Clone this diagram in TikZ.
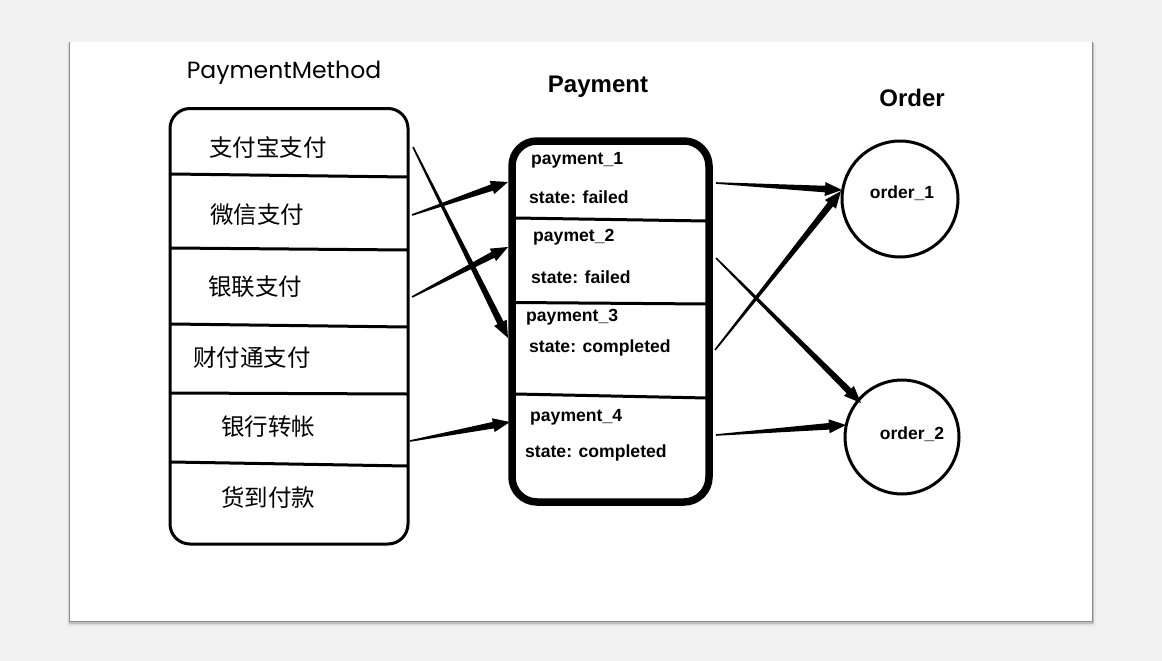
\documentclass[tikz,border=0pt]{standalone}
\usepackage{fontspec}
\setmainfont{Liberation Sans}
\newfontfamily\cjk{Noto Sans CJK SC}
\newfontfamily\geo{Poppins}
\usetikzlibrary{calc}
\newcommand{\tarrow}[2]{%
  \path ($(#2)!17pt!(#1)$) coordinate (hb);
  \fill ($(#1)!0.8pt!90:(#2)$) -- ($(hb)!3.3pt!90:(#2)$) -- ($(hb)!7pt!90:(#2)$) -- (#2)
     -- ($(hb)!7pt!-90:(#2)$) -- ($(hb)!3.3pt!-90:(#2)$) -- ($(#1)!0.8pt!-90:(#2)$) -- cycle;
}
\begin{document}
\begin{tikzpicture}[x=1pt,y=-1pt,
  cn/.style={font=\cjk\fontsize{23.5}{23.5}\selectfont, inner sep=0pt},
  pt/.style={font=\bfseries\fontsize{17.6}{17.6}\selectfont, inner sep=0pt, anchor=west},
  hd/.style={font=\bfseries\fontsize{24}{24}\selectfont, inner sep=0pt},
  ot/.style={font=\bfseries\fontsize{17.5}{17.5}\selectfont, inner sep=0pt},
  div/.style={line width=3pt}]
\useasboundingbox (0,0) rectangle (1162,661);
\fill[black!5] (0,0) rectangle (1162,661);
% slide shadow
\foreach \o/\c in {6/black!8,4/black!14,2.5/black!25,1.2/black!45}
  \fill[\c] (70-\o*0.5,42+\o*0.3) rectangle (1092+\o*0.6,621+\o);
\fill[white] (70,42) rectangle (1092,621);

% titles
\node[font=\geo\fontsize{23.5}{23.5}\selectfont, inner sep=0pt] (tpm) at (284,73) {PaymentMethod};
\node[hd] (tpay) at (598,87) {Payment};
\node[hd] (tord) at (912,98) {Order};

% left box
\node[draw, line width=3pt, rounded corners=20pt, minimum width=238pt, minimum height=435.5pt] (pm) at (289,326.25) {};
\draw[div] (171,174) -- (407,177);
\draw[div] (171,248) -- (407,250);
\draw[div] (171,324) -- (407,327);
\draw[div] (171,393) -- (407,394);
\draw[div] (171,462) -- (407,466);
\node[cn] (m1) at (268,147) {支付宝支付};
\node[cn] (m2) at (257,215) {微信支付};
\node[cn] (m3) at (255,287) {银联支付};
\node[cn] (m4) at (252,358) {财付通支付};
\node[cn] (m5) at (268,427) {银行转帐};
\node[cn] (m6) at (268,498) {货到付款};

% payment box
\node[draw, line width=7.5pt, rounded corners=25pt, minimum width=197pt, minimum height=361pt] (pay) at (610.5,321.5) {};
\draw[div] (515,218) -- (707,221);
\draw[div] (515,302.5) -- (707,304);
\draw[div] (515,394) -- (707,398);
\node[pt] (p1) at (531,160) {payment\_1};
\node[pt] (s1) at (529,197) {state: failed};
\node[pt] (p2) at (533,237) {paymet\_2};
\node[pt] (s2) at (531,277) {state: failed};
\node[pt] (p3) at (526,317) {payment\_3};
\node[pt] (s3) at (529,348) {state: completed};
\node[pt] (p4) at (530,417) {payment\_4};
\node[pt] (s4) at (525,453) {state: completed};

% orders
\node[draw, circle, line width=3pt, minimum size=116pt, inner sep=0pt] (o1) at (900,199) {};
\node[draw, circle, line width=3pt, minimum size=114pt, inner sep=0pt] (o2) at (902,437) {};
\node[ot] (o1t) at (902,193) {order\_1};
\node[ot] (o2t) at (912,434) {order\_2};

% connector ends
\coordinate (a1s) at (413,147); \coordinate (a1e) at (508,338);
\coordinate (a2s) at (412,215); \coordinate (a2e) at (508,182);
\coordinate (a3s) at (412,297); \coordinate (a3e) at (508,247);
\coordinate (a4s) at (410,441); \coordinate (a4e) at (510,422);
\coordinate (b1s) at (716,183); \coordinate (b1e) at (842,190);
\coordinate (b2s) at (715,350); \coordinate (b2e) at (841,191);
\coordinate (b3s) at (716,258); \coordinate (b3e) at (861,403);
\coordinate (b4s) at (716,435); \coordinate (b4e) at (846,425);
\tarrow{a1s}{a1e}
\tarrow{a2s}{a2e}
\tarrow{a3s}{a3e}
\tarrow{a4s}{a4e}
\tarrow{b1s}{b1e}
\tarrow{b2s}{b2e}
\tarrow{b3s}{b3e}
\tarrow{b4s}{b4e}
\end{tikzpicture}
\end{document}
